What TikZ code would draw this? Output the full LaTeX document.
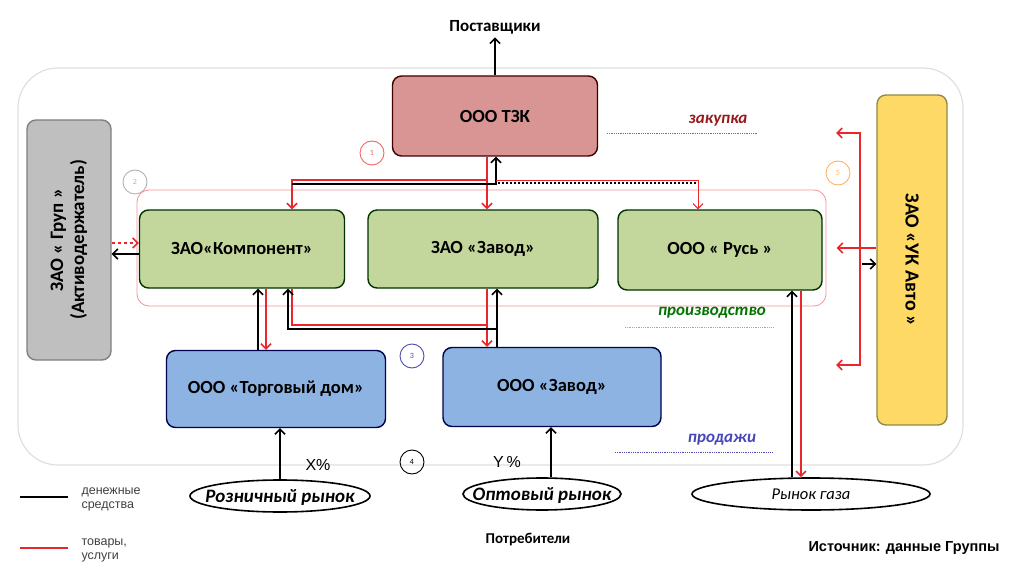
\documentclass[tikz,border=0pt]{standalone}
\usepackage{fontspec}
\setmainfont{Carlito}
\newfontfamily\arialfont{Liberation Sans}
\usetikzlibrary{arrows.meta,shapes.geometric,positioning}
\definecolor{goodsred}{HTML}{E8262B}
\definecolor{tzkfill}{HTML}{D99594}
\definecolor{greenfill}{HTML}{C3D69B}
\definecolor{bluefill}{HTML}{8DB3E2}
\definecolor{greyfill}{HTML}{BFBFBF}
\definecolor{yellowfill}{HTML}{FFD966}
\newcommand{\ovaltext}[1]{\smash{\raisebox{-.33em}{\makebox[0pt]{#1}}}}

\begin{document}
\begin{tikzpicture}
          [x=1pt, y=-1pt, >={Straight Barb[length=5pt,width=10pt]},
           box/.style={draw, rounded corners=9pt, line width=1.4pt, inner sep=0pt,
             align=center, font=\bfseries\fontsize{18.5}{21}\selectfont},
           money/.style={draw=black, line width=1.6pt},
           goods/.style={draw=goodsred, line width=1.6pt},
           stage/.style={font=\bfseries\itshape\fontsize{17}{19}\selectfont},
           stageline/.style={line width=0.8pt, densely dotted},
           numcirc/.style={draw, circle, line width=0.9pt, minimum size=24pt,
             inner sep=0pt, font=\fontsize{8}{9}\selectfont},
           market/.style={draw, ellipse, line width=1.6pt, inner sep=0pt,
             font=\bfseries\itshape\fontsize{19}{21}\selectfont}]
          \useasboundingbox (0,0) rectangle (1011,569);

          % frames
          \draw[gray!25, line width=1.2pt, rounded corners=40pt] (18,68) rectangle (963,465);
          \draw[goodsred!50, line width=0.8pt, rounded corners=12pt] (137,190) rectangle (826,306);

          % companies
          \node (tzk) [box, fill=tzkfill, draw=black!75!red, minimum width=205, minimum height=80] at (495,116) {ООО ТЗК};
          \node (komp) [box, fill=greenfill, draw=black!80!green, minimum width=205, minimum height=78] at (242,249) {ЗАО«Компонент»};
          \node (zavod) [box, fill=greenfill, draw=black!80!green, minimum width=230, minimum height=78] at (483,249) {ЗАО «Завод»};
          \node (rus) [box, fill=greenfill, draw=black!80!green, minimum width=204, minimum height=80] at (720,250) {ООО « Русь »};
          \node (torg) [box, fill=bluefill, draw=black!70!blue, minimum width=219, minimum height=77] at (276,389) {ООО «Торговый дом»};
          \node (ozavod) [box, fill=bluefill, draw=black!70!blue, minimum width=218, minimum height=79] at (552,387) {ООО «Завод»};
          \node (grup) [box, fill=greyfill, draw=gray, rotate=90, minimum width=240, minimum height=84,
            font=\bfseries\fontsize{19}{21}\selectfont] at (69,240) {ЗАО « Груп »\\(Активодержатель)};
          \node (ukavto) [box, fill=yellowfill, draw=black!50!yellow, rotate=-90, minimum width=330, minimum height=70,
            font=\bfseries\fontsize{20}{22}\selectfont] at (912,260) {ЗАО «УК Авто »};

          % markets
          \node (supp) [font=\bfseries\fontsize{17}{19}\selectfont] at (495,27) {Поставщики};
          \node (retail) [market, minimum width=180, minimum height=32] at (280,496) {\ovaltext{Розничный рынок}};
          \node (wholesale) [market, minimum width=158, minimum height=32] at (542,494) {\ovaltext{Оптовый рынок}};
          \node (gas) [market, minimum width=238, minimum height=32, font=\itshape\fontsize{16.5}{18}\selectfont] at (811,494) {\ovaltext{Рынок газа}};
          \node (cons) [font=\bfseries\fontsize{15}{17}\selectfont] at (528,540) {Потребители};
          \node (src) [font=\arialfont\bfseries\fontsize{14.5}{16}\selectfont] at (904,548) {Источник: данные Группы};

          % stages
          \node (buy) [stage, text=goodsred!65!black] at (718,121) {закупка};
          \draw[stageline, goodsred!40!gray] (607,133) -- (757,133);
          \node (prod) [stage, text=green!45!black] at (712,313) {производство};
          \draw[stageline, gray!70] (625,327) -- (773,327);
          \node (sale) [stage, text=blue!45!gray] at (722,440) {продажи};
          \draw[stageline, blue!40!gray] (615,452) -- (773,452);

          % numbers
          \node (n1) [numcirc, draw=goodsred!70, text=goodsred!70] at (372,153) {1};
          \node (n2) [numcirc, draw=gray!60, text=gray!60] at (135,182) {2};
          \node (n3) [numcirc, draw=blue!40!gray, text=blue!40!gray] at (412,356) {3};
          \node (n4) [numcirc, draw=black] at (412,462) {4};
          \node (n5) [numcirc, draw=orange!60, text=orange!60] at (838,173) {5};

          % purchasing
          \draw[money, ->] (tzk.north) -- (supp.south);
          \coordinate (kompmoney) at (292,184);
          \draw[goods, ->] (487,0 |- tzk.south) -- (487,0 |- zavod.north);
          \draw[goods, ->] (487,0 |- tzk.south) |- (292,180) -- (292,0 |- komp.north);
          \draw[money, ->] (kompmoney) -| (496,0 |- tzk.south);
          \draw[goods, line width=1pt, ->] (496,181) -| (698,0 |- rus.north);
          \draw[money, line width=1.2pt, dash pattern=on 2pt off 2pt] (498,183) -- (696,183);

          % holding
          \draw[goods, dashed, ->] (grup.south |- 0,243) -- (komp.west |- 0,243);
          \draw[money, ->] (komp.west |- 0,254) -- (grup.south |- 0,254);

          % production and sales
          \draw[goods, ->] (266,0 |- komp.south) -- (266,0 |- torg.north);
          \draw[money, ->] (258,0 |- torg.north) -- (258,0 |- komp.south);
          \draw[goods, ->] (487,0 |- zavod.south) -- (487,0 |- ozavod.north);
          \draw[goods] (292,0 |- komp.south) |- (487,325);
          \draw[money, ->] (497,0 |- ozavod.north) -- (497,0 |- zavod.south);
          \draw[money, ->] (497,329) -| (288,0 |- komp.south);
          \draw[goods, ->] (801,0 |- rus.south) -- (801,0 |- gas.north);
          \draw[money, ->] (792,0 |- gas.north) -- (792,0 |- rus.south);
          \draw[money, ->] (retail.north) -- (retail.north |- torg.south);
          \draw[money, ->] (551,0 |- wholesale.north) -- (551,0 |- ozavod.south);
          \node (xpc) [font=\arialfont\fontsize{16}{18}\selectfont] at (318,465) {X\%};
          \node (ypc) [font=\arialfont\fontsize{16}{18}\selectfont] at (507,462) {Y\,\%};

          % management
          \coordinate (uktop) at (836,133);
          \coordinate (ukbot) at (836,365);
          \draw[goods, <->] (uktop) -| (860,365) -- (ukbot);
          \draw[goods, ->, shorten >=14pt] (ukavto.south |- 0,248) -- (rus.east |- 0,248);
          \draw[money, ->] (862,264) -- (ukavto.south |- 0,264);

          % legend
          \draw[money, line width=2.4pt] (20,497) -- (68,497);
          \node (lmoney) [anchor=west, align=left, text=black!75, font=\arialfont\fontsize{12.5}{14}\selectfont] at (78,499) {денежные\\средства};
          \draw[goods, line width=2.4pt] (20,548) -- (68,548);
          \node (lgoods) [anchor=west, align=left, text=black!75, font=\arialfont\fontsize{12.5}{14}\selectfont] at (78,550) {товары,\\услуги};
        \end{tikzpicture}
\end{document}
